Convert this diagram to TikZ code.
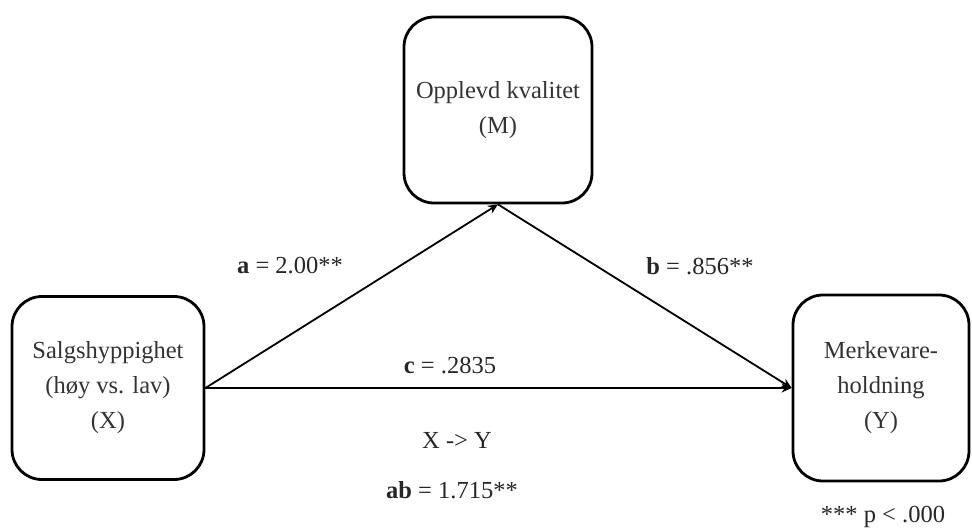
\documentclass[tikz,border=0pt]{standalone}
\usepackage{fontspec}
\setmainfont{Liberation Serif}
\usetikzlibrary{arrows.meta}
\begin{document}
\begin{tikzpicture}[x=1pt,y=-1pt,
  box/.style={draw,line width=2.8pt,rounded corners=30pt,align=center,
    font=\fontsize{24.5}{35}\selectfont,text=black!80,inner sep=0pt},
  conn/.style={line width=1.8pt,-{Stealth[length=10pt,width=9pt]}},
  lab/.style={font=\fontsize{24.5}{28}\selectfont,text=black!85}]
\useasboundingbox (0,0) rectangle (972,528);
\node[box,minimum width=188pt,minimum height=186pt] (M) at (498,110) {Opplevd kvalitet\\(M)};
\node[box,minimum width=192pt,minimum height=183pt] (X) at (108,388) {Salgshyppighet\\(høy vs. lav)\\(X)};
\node[box,minimum width=176pt,minimum height=186pt] (Y) at (881,388) {Merkevare-\\holdning\\(Y)};
\draw[conn] (X.east) -- (M.south);
\draw[conn] (M.south) -- (Y.west);
\draw[conn] (X.east) -- (Y.west);
\node[lab] (la) at (290,266) {\textbf{a} = 2.00**};
\node[lab] (lb) at (700,266) {\textbf{b} = .856**};
\node[lab] (lc) at (450,366) {\textbf{c} = .2835};
\node[lab] (lxy) at (457,440) {X -> Y};
\node[lab] (lab1) at (452,490) {\textbf{ab} = 1.715**};
\node[lab] (lp) at (883,517) {*** p < .000};
\end{tikzpicture}
\end{document}
